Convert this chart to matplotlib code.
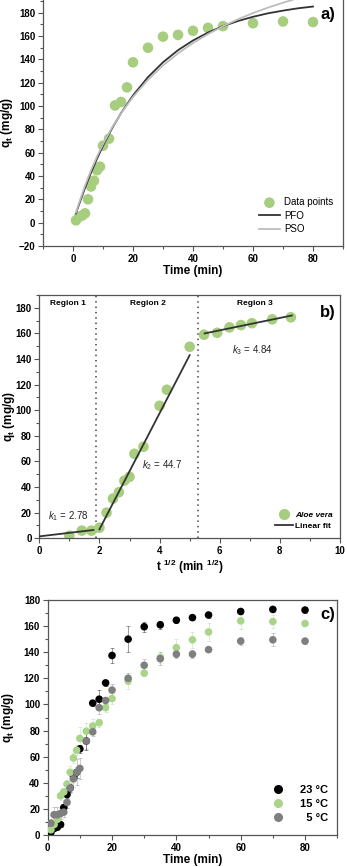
import matplotlib
matplotlib.use("Agg")
import matplotlib.pyplot as plt
import numpy as np
from matplotlib.ticker import MultipleLocator, FixedLocator
from matplotlib.lines import Line2D

plt.rcParams['font.family'] = ['Liberation Sans', 'DejaVu Sans']
plt.rcParams['mathtext.fontset'] = 'custom'
plt.rcParams['mathtext.rm'] = 'Liberation Sans'
plt.rcParams['mathtext.it'] = 'Liberation Sans:italic'
plt.rcParams['mathtext.bf'] = 'Liberation Sans:bold'

# ---------------- data ----------------
# panel a: kinetic data (23 C)
t_a = [1, 2, 3, 4, 5, 6, 7, 8, 9, 10, 12, 14, 16, 18, 20, 25, 30, 35, 40, 45, 50, 60, 70, 80]
q_a = [2, 5, 6, 8, 20, 31, 36, 45, 48, 66, 72, 100.5, 103.5, 116, 137.5, 150, 159.5, 161,
       164.5, 167, 168.5, 171, 172.5, 172]
# fitted model curves
t_fit = [1, 2, 4, 6, 8, 10, 13, 16, 20, 25, 30, 35, 40, 45, 50, 55, 60, 65, 70, 75, 80]
q_pfo = [7.9, 15.5, 29.7, 42.8, 54.8, 65.9, 80.8, 93.9, 109.1, 124.8, 137.5, 147.9, 156.2,
         163.0, 168.5, 172.9, 176.5, 179.5, 181.8, 183.8, 185.3]
q_pso = [8.7, 16.8, 31.7, 44.9, 56.7, 67.4, 81.5, 93.7, 107.8, 122.5, 134.8, 145.1, 154.0,
         161.7, 168.4, 174.4, 179.7, 184.4, 188.6, 192.5, 196.0]
yticks_a = [-20, 0, 20, 40, 60, 80, 100, 120, 140, 160, 180]

# panel b: intraparticle diffusion
t_b = [1, 2, 3, 4, 5, 6, 7, 8, 9, 10, 12, 16, 18, 25, 30, 35, 40, 45, 50, 60, 70]
q_b = [2, 6, 6, 8.3, 20, 31, 36, 45, 48, 66, 71.5, 103.5, 116, 149.6, 159, 160.5, 164.7,
       166.5, 168, 171, 172.6]
fit1_x = [0.0, 1.8]
fit1_y = [1.5, 6.5]
fit2_x = [2.0, 5.0]
fit2_y = [7.0, 143.0]
fit3_x = [5.5, 8.4]
fit3_y = [160.0, 174.0]
region_bounds = [1.88, 5.29]
region_labels = ['Region 1', 'Region 2', 'Region 3']
region_label_x = [0.96, 3.62, 7.17]
k_labels = [r'$\mathit{k}_{\mathrm{1}}$ = 2.78', r'$\mathit{k}_{\mathrm{2}}$ = 44.7',
            r'$\mathit{k}_{\mathrm{3}}$ = 4.84']
k_pos = [(0.3, 17), (3.4, 57), (6.4, 147)]

# panel c: temperatures
t_c = [1, 2, 3, 4, 5, 6, 7, 8, 9, 10, 12, 14, 16, 18, 20, 25, 30, 35, 40, 45, 50, 60, 70, 80]
q_23 = [2, 5, 6, 8, 21, 31, 36, 45, 48, 66, 72, 101, 104, 116.5, 137.5, 150, 159.5, 161,
        164.5, 166.5, 168.5, 171.2, 172.8, 172.3]
e_23 = [1, 2, 2, 2, 2, 3, 3, 3, 4, 3, 7, 2, 7, 2, 6, 10, 4, 3, 2, 2, 2, 2, 2, 2]
q_15 = [4, 8, 12, 30, 33, 39, 48, 59, 65, 74, 79.5, 83.5, 86, 97.5, 104.5, 118, 124, 136,
        143.5, 149.5, 155.5, 164, 163.5, 162]
e_15 = [2, 4, 4, 3, 3, 3, 5, 4, 4, 9, 6, 5, 3, 3, 4, 6, 2, 4, 7, 6, 7, 6, 5, 2]
q_5 = [9, 15.5, 15.5, 16.5, 17.5, 25, 36, 43, 48, 51, 72, 79, 97.5, 103, 111, 120, 130, 135,
       138.5, 138.5, 142, 148.5, 149.5, 148.5]
e_5 = [3, 6, 6, 4, 4, 4, 4, 6, 10, 8, 6, 3, 5, 3, 5, 4, 5, 5, 3, 3, 2, 3, 5, 2]
temp_labels = ['23 °C', '15 °C', '  5 °C']

# ---------------- styling ----------------
GREEN = '#a7cd7e'
GREEN_C = '#a9d48a'
GRAY = '#7f7f7f'
DARK = '#333333'
SPINE = '#555555'

W, H = 347, 867
fig = plt.figure(figsize=(W / 100, H / 100), dpi=100)


def add_ax(left, top, right, bottom):
    return fig.add_axes([left / W, 1 - bottom / H, (right - left) / W, (bottom - top) / H])


def style(ax, xmaj, xmin, ymaj, ymin, top=True):
    for s in ['left', 'bottom', 'right', 'top']:
        ax.spines[s].set_color(SPINE)
        ax.spines[s].set_linewidth(0.9)
    ax.spines['top'].set_visible(top)
    ax.xaxis.set_major_locator(MultipleLocator(xmaj))
    ax.xaxis.set_minor_locator(MultipleLocator(xmin))
    ax.yaxis.set_major_locator(MultipleLocator(ymaj))
    ax.yaxis.set_minor_locator(MultipleLocator(ymin))
    ax.tick_params(which='both', direction='out', color=SPINE, width=0.8,
                   top=False, right=False)
    ax.tick_params(which='major', length=3.5, labelsize=7, pad=2)
    ax.tick_params(which='minor', length=2)


def bold_ticks(ax):
    for lab in ax.get_xticklabels() + ax.get_yticklabels():
        lab.set_fontweight('bold')


ylab = r'q$_{\mathbf{t}}$ (mg/g)'

# ---------------- panel a ----------------
ax = add_ax(43, -10.6, 343, 246)
ax.set_xlim(-10, 90)
ax.set_ylim(-20, 200)
ax.scatter(t_a, q_a, s=58, color=GREEN, edgecolors='none', zorder=2, label='Data points')
ax.plot(t_fit, q_pfo, color=DARK, lw=1.3, zorder=3, label='PFO')
ax.plot(t_fit, q_pso, color='#bdbdbd', lw=1.3, zorder=3, label='PSO')
style(ax, 20, 10, 20, 10, top=False)
ax.yaxis.set_major_locator(FixedLocator(yticks_a))
bold_ticks(ax)
ax.set_xlabel('Time (min)', fontsize=8.5, fontweight='bold', labelpad=1)
ax.set_ylabel(ylab, fontsize=8.5, fontweight='bold')
ax.yaxis.set_label_coords(-0.093, (246 - 122) / 256.6)
ax.legend(loc='lower right', bbox_to_anchor=(0.99, 0.02), frameon=False, fontsize=7,
          handlelength=2.2, handletextpad=0.4, borderpad=0.2, labelspacing=0.35)
fig.text(328 / W, 1 - 15 / H, 'a)', fontsize=12, fontweight='bold', ha='center', va='center')

# ---------------- panel b ----------------
ax = add_ax(39.3, 295, 340, 538.3)
ax.set_xlim(0, 10)
ax.set_ylim(0, 190)
ax.scatter(np.sqrt(t_b), q_b, s=58, color=GREEN, edgecolors='none', zorder=2)
for fx, fy in [(fit1_x, fit1_y), (fit2_x, fit2_y), (fit3_x, fit3_y)]:
    ax.plot(fx, fy, color=DARK, lw=1.3, zorder=3)
for xb in region_bounds:
    ax.axvline(xb, color='#444444', lw=1.1, ls=(0, (1, 2.5)), zorder=1)
for lab, lx in zip(region_labels, region_label_x):
    ax.text(lx, 186, lab, fontsize=6, fontweight='bold', ha='center', va='top')
for lab, (kx, ky) in zip(k_labels, k_pos):
    ax.text(kx, ky, lab, fontsize=7, ha='left', va='center', color='#222222')
style(ax, 2, 1, 20, 10, top=True)
bold_ticks(ax)
ax.set_xlabel(r't $^{\mathbf{1/2}}$ (min $^{\mathbf{1/2}}$)', fontsize=8.5,
              fontweight='bold', labelpad=1)
ax.set_ylabel(ylab, fontsize=8.5, fontweight='bold')
ax.yaxis.set_label_coords(-0.075, 0.5)
hb = [Line2D([], [], marker='o', ls='none', color=GREEN, markersize=7),
      Line2D([], [], color=DARK, lw=1.3)]
legb = ax.legend(hb, ['Aloe vera', 'Linear fit'], loc='lower right',
                 bbox_to_anchor=(0.995, 0.01), frameon=False, fontsize=6,
                 handlelength=2.2, handletextpad=0.2, borderpad=0.2, labelspacing=0.4)
txts = legb.get_texts()
txts[0].set_fontstyle('italic')
txts[0].set_fontweight('bold')
txts[1].set_fontweight('bold')
fig.text(328 / W, 1 - 313 / H, 'b)', fontsize=12, fontweight='bold', ha='center', va='center')

# ---------------- panel c ----------------
ax = add_ax(47.7, 600, 337.2, 835)
ax.set_xlim(0, 90)
ax.set_ylim(0, 180)
series = [(q_5, e_5, GRAY), (q_15, e_15, GREEN_C), (q_23, e_23, '#000000')]
for qv, ev, col in series:
    ax.errorbar(t_c, qv, yerr=ev, fmt='none', ecolor=col, elinewidth=0.6, capsize=1.5,
                capthick=0.6, alpha=0.45, zorder=2)
ax.scatter(t_c, q_23, s=30, color='#000000', edgecolors='none', zorder=3)
ax.scatter(t_c, q_15, s=30, color=GREEN_C, edgecolors='none', zorder=4)
ax.scatter(t_c, q_5, s=30, color=GRAY, edgecolors='none', zorder=5)
style(ax, 20, 10, 20, 10, top=True)
bold_ticks(ax)
ax.set_xlabel('Time (min)', fontsize=8.5, fontweight='bold', labelpad=1)
ax.set_ylabel(ylab, fontsize=8.5, fontweight='bold')
ax.yaxis.set_label_coords(-0.11, 0.5)
hc = [Line2D([], [], marker='o', ls='none', color=c, markersize=5.5)
      for c in ['#000000', GREEN_C, GRAY]]
ax.legend(hc, temp_labels, loc='lower right', bbox_to_anchor=(0.995, 0.02), frameon=False,
          prop={'size': 8, 'weight': 'bold'}, handlelength=1.5, handletextpad=1.2,
          borderpad=0.2, labelspacing=0.35)
fig.text(328 / W, 1 - 615 / H, 'c)', fontsize=12, fontweight='bold', ha='center', va='center')

fig.savefig('out.png', dpi=100)
